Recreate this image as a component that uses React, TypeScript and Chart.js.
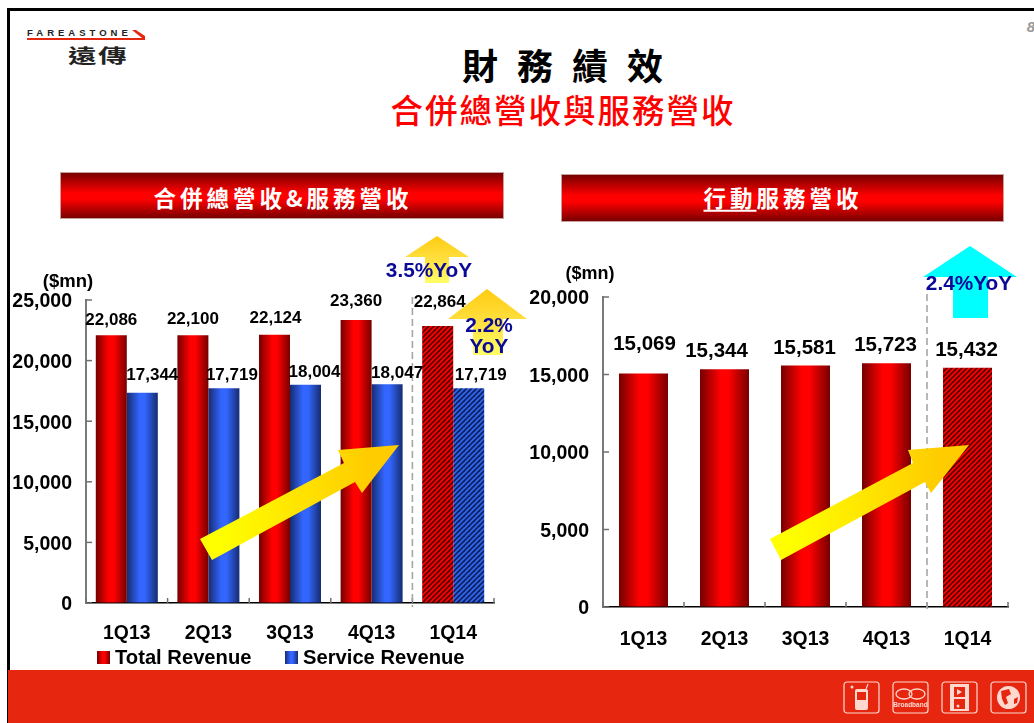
import React, { useEffect, useRef } from "react";
import { Chart, registerables } from "chart.js";

Chart.register(...registerables);

const categories = ["1Q13", "2Q13", "3Q13", "4Q13", "1Q14"];
const totalRevenue = [22086, 22100, 22124, 23360, 22864];
const serviceRevenue = [17344, 17719, 18004, 18047, 17719];
const mobileServiceRevenue = [15069, 15344, 15581, 15723, 15432];
const totalLabelNudge = [[0, 17], [0, 17], [1, 18], [0, 20], [2, 25]];
const serviceLabelNudge = [[10, 19], [8, 14], [9, 14], [10, 12], [12, 14]];
const mobileLabelNudge = [[1, 31], [-8, 19], [-1, 19], [-1, 19], [-1, 19]];

const FONT = '"Liberation Sans", Arial, sans-serif';
const CJK = '"Noto Sans CJK TC", sans-serif';

const hatchTile = (light: string, dark: string) => {
  const c = document.createElement("canvas");
  c.width = 5;
  c.height = 5;
  const g = c.getContext("2d")!;
  g.fillStyle = light;
  g.fillRect(0, 0, 5, 5);
  g.strokeStyle = dark;
  g.lineWidth = 1.8;
  [[-1, 1, 1, -1], [-1, 6, 6, -1], [4, 6, 6, 4]].forEach(([a, b, x, y]) => {
    g.beginPath();
    g.moveTo(a, b);
    g.lineTo(x, y);
    g.stroke();
  });
  return g.createPattern(c, "repeat")!;
};

const tones: Record<string, { edge: string; mid: string; light: string; dark: string }> = {
  red: { edge: "#760000", mid: "#ff0000", light: "#ff0000", dark: "#5a0000" },
  blue: { edge: "#162c70", mid: "#3366ff", light: "#3366ee", dark: "#0d2263" },
};

const barGradient = (ctx: CanvasRenderingContext2D, x0: number, x1: number, tone: string) => {
  const g = ctx.createLinearGradient(x0, 0, x1, 0);
  g.addColorStop(0, tones[tone].edge);
  g.addColorStop(0.42, tones[tone].mid);
  g.addColorStop(0.58, tones[tone].mid);
  g.addColorStop(1, tones[tone].edge);
  return g;
};

const barFill = {
  id: "barFill",
  beforeDatasetsDraw(chart: any) {
    chart.data.datasets.forEach((ds: any, i: number) => {
      chart.getDatasetMeta(i).data.forEach((el: any, j: number) => {
        const fill =
          categories[j] === "1Q14"
            ? hatchTile(tones[ds.tone].light, tones[ds.tone].dark)
            : barGradient(chart.ctx, el.x - el.width / 2, el.x + el.width / 2, ds.tone);
        el.options = { ...el.options, backgroundColor: fill };
      });
    });
  },
};

const axisMarks = {
  id: "axisMarks",
  beforeDatasetsDraw(chart: any) {
    const { ctx, chartArea: a, scales } = chart;
    const step = (a.right - a.left) / categories.length;
    ctx.save();
    ctx.strokeStyle = "#707070";
    ctx.lineWidth = 1.5;
    scales.y.ticks.forEach((t: any) => {
      const y = scales.y.getPixelForValue(t.value);
      ctx.beginPath();
      ctx.moveTo(a.left, y);
      ctx.lineTo(a.left + 6, y);
      ctx.stroke();
    });
    for (let i = 0; i <= categories.length; i++) {
      const x = a.left + i * step;
      ctx.beginPath();
      ctx.moveTo(x, a.bottom);
      ctx.lineTo(x, a.bottom - 5);
      ctx.stroke();
    }
    const sep = a.left + 4 * step;
    ctx.strokeStyle = "#a6a6a6";
    ctx.lineWidth = 1.6;
    ctx.setLineDash([7, 4]);
    ctx.beginPath();
    ctx.moveTo(sep, a.top - 3);
    ctx.lineTo(sep, a.bottom + 4);
    ctx.stroke();
    ctx.restore();
  },
};

const valueLabels = {
  id: "valueLabels",
  afterDatasetsDraw(chart: any) {
    const { ctx, options } = chart;
    ctx.save();
    ctx.font = `bold ${options.plugins.valueLabels.size}px ${FONT}`;
    ctx.fillStyle = "#000";
    ctx.textAlign = "center";
    ctx.textBaseline = "middle";
    chart.data.datasets.forEach((ds: any, i: number) => {
      chart.getDatasetMeta(i).data.forEach((el: any, j: number) => {
        const [dx, dy] = ds.nudge[j];
        ctx.fillText(ds.data[j].toLocaleString("en-US"), el.x + dx, el.y - dy + 1.5);
      });
    });
    ctx.restore();
  },
};

const swatchLegend = {
  id: "swatchLegend",
  afterDraw(chart: any) {
    const spots = chart.options.plugins.swatchLegend.spots;
    if (!spots) return;
    const { ctx } = chart;
    ctx.save();
    ctx.font = `bold 20.2px ${FONT}`;
    ctx.textBaseline = "middle";
    chart.data.datasets.forEach((ds: any, i: number) => {
      const x = spots[i];
      ctx.fillStyle = barGradient(ctx, x, x + 13, ds.tone);
      ctx.fillRect(x, 371, 13, 13);
      ctx.fillStyle = "#000";
      ctx.fillText(ds.label, x + 18, 378);
    });
    ctx.restore();
  },
};

const makeChart = (
  canvas: HTMLCanvasElement,
  datasets: any[],
  cfg: { yWidth: number; xHeight: number; top: number; max: number; pct: number; yPad: number; xPad: number; label: number; spots?: number[] },
) =>
  new Chart(canvas, {
    type: "bar",
    data: { labels: categories, datasets: datasets as any },
    plugins: [barFill, axisMarks, valueLabels, swatchLegend],
    options: {
      responsive: false,
      animation: false,
      layout: { padding: { top: cfg.top, right: 26, left: 0, bottom: 0 } },
      datasets: { bar: { categoryPercentage: cfg.pct, barPercentage: 1 } },
      plugins: {
        legend: { display: false },
        title: { display: false },
        tooltip: { enabled: false },
        valueLabels: { size: cfg.label },
        swatchLegend: { spots: cfg.spots },
      } as any,
      scales: {
        x: {
          grid: { drawOnChartArea: false, drawTicks: false },
          border: { color: "#000", width: 1.5 },
          ticks: { color: "#000", padding: cfg.xPad, font: { family: FONT, size: 19.4, weight: "bold" }, maxRotation: 0 },
          afterFit: (s: any) => {
            s.height = cfg.xHeight;
            s.paddingLeft = 0;
            s.paddingRight = 0;
          },
        },
        y: {
          min: 0,
          max: cfg.max,
          grid: { drawOnChartArea: false, drawTicks: false },
          border: { color: "#7a7a7a", width: 2 },
          ticks: {
            stepSize: 5000,
            color: "#000",
            padding: cfg.yPad,
            font: { family: FONT, size: 19.5, weight: "bold" },
            callback: (v: any) => Number(v).toLocaleString("en-US"),
          },
          afterFit: (s: any) => {
            s.width = cfg.yWidth;
            s.paddingTop = 0;
            s.paddingBottom = 0;
            const compute = s._computeLabelItems.bind(s);
            s._computeLabelItems = (area: any) =>
              compute(area).map((item: any) => ({ ...item, textOffset: item.textOffset + 1 }));
          },
        },
      },
    },
  });

const at = (x: number, y: number, extra: React.CSSProperties = {}): React.CSSProperties => ({
  position: "absolute",
  left: x,
  top: y,
  transform: "translate(-50%,-50%)",
  whiteSpace: "nowrap",
  ...extra,
});

const yoy: React.CSSProperties = { fontFamily: FONT, fontWeight: 700, fontSize: 20.8, color: "#0a0a96", lineHeight: 1 };
const unit: React.CSSProperties = { fontFamily: FONT, fontWeight: 700, color: "#000" };
const band = (left: number, top: number, w: number, h: number): React.CSSProperties => ({
  position: "absolute",
  left,
  top,
  width: w,
  height: h,
  boxSizing: "border-box",
  border: "1px solid #c9a0a0",
  background: "linear-gradient(180deg,#780000 0%,#ff0000 45%,#ff0000 58%,#780000 100%)",
});
const bandText: React.CSSProperties = {
  fontFamily: CJK,
  fontWeight: 700,
  color: "#fff",
  fontSize: 22.5,
  letterSpacing: 4,
  lineHeight: 1,
};

const IconBox = ({ x, children }: { x: number; children: React.ReactNode }) => (
  <g transform={`translate(${x},682)`}>
    <rect x="0" y="0" width="35" height="31" rx="3" fill="none" stroke="#ffd9d0" strokeWidth="1.2" />
    {children}
  </g>
);

export default function App() {
  const left = useRef<HTMLCanvasElement>(null);
  const right = useRef<HTMLCanvasElement>(null);
  useEffect(() => {
    const a = makeChart(
      left.current!,
      [
        { label: "Total Revenue", data: totalRevenue, tone: "red", nudge: totalLabelNudge, backgroundColor: "#ff0000" },
        { label: "Service Revenue", data: serviceRevenue, tone: "blue", nudge: serviceLabelNudge, backgroundColor: "#3366ff" },
      ],
      { yWidth: 86, xHeight: 67, top: 20, max: 25000, pct: 0.76, yPad: 14, xPad: 19, label: 17, spots: [97, 285] },
    );
    const b = makeChart(
      right.current!,
      [{ label: "Mobile Service Revenue", data: mobileServiceRevenue, tone: "red", nudge: mobileLabelNudge, backgroundColor: "#ff0000" }],
      { yWidth: 83, xHeight: 63, top: 17, max: 20000, pct: 0.605, yPad: 14, xPad: 21, label: 20.5 },
    );
    return () => {
      a.destroy();
      b.destroy();
    };
  }, []);

  return (
    <div style={{ position: "relative", width: 1034, height: 723, overflow: "hidden", background: "#fff" }}>
      <style>{`html,body{margin:0;padding:0;overflow:hidden}`}</style>

      <div style={{ position: "absolute", left: 7, top: 8, right: 0, height: 3, background: "#000" }} />
      <div style={{ position: "absolute", left: 7, top: 8, bottom: 0, width: 2.5, background: "#000" }} />
      <div style={at(1031, 26, { fontFamily: FONT, fontWeight: 700, fontStyle: "italic", fontSize: 15, color: "#999" })}>8</div>

      {/* logo */}
      <div style={{ position: "absolute", left: 27, top: 28, fontFamily: FONT, fontWeight: 700, fontSize: 9.5, letterSpacing: 4, color: "#222", whiteSpace: "nowrap", lineHeight: "10px" }}>
        FAREASTONE
      </div>
      <div style={at(98, 54, { fontFamily: CJK, fontWeight: 700, fontSize: 19, color: "#222", letterSpacing: 1, lineHeight: 1, transform: "translate(-50%,-50%) scale(1.5,1)" })}>遠傳</div>

      <div style={at(563, 64, { fontFamily: CJK, fontWeight: 700, fontSize: 36, letterSpacing: 19, marginLeft: 9, color: "#000", lineHeight: 1 })}>財務績效</div>
      <div style={at(562, 109, { fontFamily: CJK, fontWeight: 500, fontSize: 32.5, letterSpacing: 2, marginLeft: 1, color: "#ff0000", lineHeight: 1 })}>合併總營收與服務營收</div>

      <div style={band(60, 172, 444, 47)} />
      <div style={at(283, 197, bandText)}>合併總營收&amp;服務營收</div>
      <div style={band(561, 174, 443, 48)} />
      <div style={at(783, 197, bandText)}>
        <span style={{ textDecoration: "underline", textUnderlineOffset: 3 }}>行動</span>服務營收
      </div>

      <canvas ref={left} width={520} height={390} style={{ position: "absolute", left: 0, top: 280, display: "block" }} />
      <canvas ref={right} width={514} height={390} style={{ position: "absolute", left: 520, top: 280, display: "block" }} />

      <div style={at(68, 281, { ...unit, fontSize: 18.5 })}>($mn)</div>
      <div style={at(590, 273, { ...unit, fontSize: 18 })}>($mn)</div>

      <svg width="1034" height="723" style={{ position: "absolute", left: 0, top: 0 }}>
        <defs>
          <linearGradient id="big" x1="0" y1="0" x2="1" y2="0">
            <stop offset="0.1" stopColor="#ffff00" />
            <stop offset="0.85" stopColor="#ffcc00" />
          </linearGradient>
          <linearGradient id="up" x1="0" y1="0" x2="0" y2="1">
            <stop offset="0" stopColor="#ffcb10" />
            <stop offset="0.5" stopColor="#ffe040" />
            <stop offset="1" stopColor="#ffff66" />
          </linearGradient>
        </defs>
        <polygon fill="url(#big)" points="200,539 344,463 338,450 399,445 362,493 355,482 212,560" />
        <polygon fill="url(#big)" points="770,539 913,463 908,450 969,445 931,493 925,482 781,560" />
        <polygon fill="url(#up)" points="437,236 469,257 449,257 449,283 425,283 425,257 405,257" />
        <polygon fill="url(#up)" points="487,289 527,319 503,319 503,355 473,355 473,319 448,319" />
        <polygon fill="#00ffff" points="970,246 1017,277 988,277 988,318 953,318 953,277 923,277" />
      </svg>

      <div style={at(429, 270, yoy)}>3.5%YoY</div>
      <div style={at(489, 325, yoy)}>2.2%</div>
      <div style={at(489, 346, yoy)}>YoY</div>
      <div style={at(969, 283, yoy)}>2.4%YoY</div>

      <div style={{ position: "absolute", left: 8, right: 0, top: 670, bottom: 0, background: "#e6260f" }} />
      <svg width="1034" height="723" style={{ position: "absolute", left: 0, top: 0 }}>
        <polygon fill="#e6260f" points="132,30 136,30 145,36 145,40 27,40 27,38 142,38" />
        <IconBox x={844}>
          <rect x="11" y="7" width="13" height="21" rx="2" fill="#ffd9d0" />
          <rect x="13" y="10" width="9" height="8" fill="#e6260f" />
          <line x1="22" y1="7" x2="24" y2="2" stroke="#ffd9d0" strokeWidth="1.2" />
          <circle cx="8" cy="5" r="1.5" fill="#ffd9d0" />
        </IconBox>
        <IconBox x={893}>
          <ellipse cx="11" cy="12" rx="8" ry="5" fill="none" stroke="#ffd9d0" strokeWidth="1.3" />
          <ellipse cx="24" cy="12" rx="8" ry="5" fill="none" stroke="#ffd9d0" strokeWidth="1.3" />
          <text x="17.5" y="25" textAnchor="middle" fontFamily={FONT} fontWeight="700" fontSize="6.5" fill="#ffd9d0">Broadband</text>
        </IconBox>
        <IconBox x={942}>
          <rect x="8" y="2" width="19" height="27" fill="#ffd9d0" />
          <rect x="12" y="5" width="11" height="10" fill="#e6260f" />
          <rect x="12" y="17" width="11" height="10" fill="#e6260f" />
          <polygon points="15,7 15,13 20,10" fill="#ffd9d0" />
          <circle cx="16" cy="24" r="1.5" fill="#ffd9d0" />
        </IconBox>
        <IconBox x={991}>
          <circle cx="17.5" cy="15.5" r="11.5" fill="#ffd9d0" />
          <path d="M10 9 l8 -2 l2 5 l-5 3 l2 6 l-3 2 l-3 -6 z" fill="#e6260f" />
          <path d="M23 17 l4 -2 l-1 6 l-3 1 z" fill="#e6260f" />
        </IconBox>
      </svg>
    </div>
  );
}
